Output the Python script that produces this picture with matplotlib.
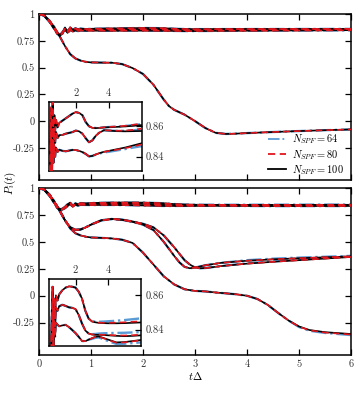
import matplotlib
matplotlib.use('Agg')
import matplotlib.pyplot as plt
from matplotlib.lines import Line2D

plt.rcParams['font.family'] = 'cmr10'
plt.rcParams['mathtext.fontset'] = 'cm'
plt.rcParams['axes.unicode_minus'] = False

BLUE = '#5b9bd5'
RED = '#e3161d'

# ---- shared time grids ----
t_head = [0, 0.1, 0.2, 0.3, 0.35, 0.4, 0.45, 0.5, 0.55, 0.6, 0.65, 0.7, 0.75, 0.8,
          0.9, 1.0, 1.2, 1.4, 1.6, 1.8, 2.0, 2.2, 2.4, 2.6, 2.8]
t_tail = [3.0, 3.2, 3.4, 3.7, 4.0, 4.5, 5.0, 5.5, 6.0]

# ---- top panel: three curves near 0.85 ----
topA_head = [1.0, 0.985, 0.93, 0.86, 0.825, 0.805, 0.815, 0.872, 0.838, 0.876, 0.852, 0.867, 0.857,
             0.864, 0.859, 0.862, 0.8635, 0.865, 0.8665, 0.868, 0.869, 0.8685, 0.867, 0.8625, 0.8598]
topA_100 = [0.8588, 0.8586, 0.8587, 0.859, 0.8592, 0.8594, 0.8597, 0.8601, 0.8606]
topA_80 = [0.8588, 0.8587, 0.8588, 0.8591, 0.8594, 0.8597, 0.8601, 0.8608, 0.8616]
topA_64 = [0.8588, 0.8587, 0.8588, 0.8591, 0.8593, 0.8596, 0.86, 0.8606, 0.8612]

topB_head = [1.0, 0.985, 0.93, 0.858, 0.82, 0.802, 0.83, 0.862, 0.828, 0.863, 0.844, 0.857, 0.849,
             0.856, 0.852, 0.854, 0.8542, 0.855, 0.8555, 0.856, 0.857, 0.8565, 0.855, 0.852, 0.8494]
topB_100 = [0.8506, 0.8535, 0.8555, 0.8572, 0.857, 0.8566, 0.8565, 0.8566, 0.8567]
topB_80 = [0.8506, 0.8535, 0.8555, 0.8572, 0.8571, 0.8569, 0.857, 0.8575, 0.8583]
topB_64 = [0.8506, 0.8535, 0.8555, 0.8572, 0.857, 0.8568, 0.8568, 0.8572, 0.8578]

topC_head = [1.0, 0.985, 0.93, 0.856, 0.815, 0.798, 0.822, 0.852, 0.824, 0.849, 0.836, 0.847, 0.84,
             0.846, 0.843, 0.8445, 0.8438, 0.8435, 0.844, 0.8444, 0.8443, 0.8438, 0.843, 0.8418, 0.8402]
topC_100 = [0.8405, 0.8414, 0.8422, 0.8432, 0.8438, 0.8449, 0.846, 0.8474, 0.8488]
topC_80 = [0.8405, 0.8414, 0.8422, 0.8431, 0.8437, 0.8446, 0.8456, 0.8467, 0.848]
topC_64 = [0.8405, 0.8413, 0.842, 0.8428, 0.8432, 0.8441, 0.845, 0.846, 0.8469]

# ---- top panel: decaying curve ----
t_tlow = [0, 0.1, 0.2, 0.3, 0.4, 0.5, 0.6, 0.7, 0.8, 0.9, 1.0, 1.2, 1.4, 1.6, 1.8, 2.0, 2.2, 2.4,
          2.5, 2.6, 2.8, 3.0, 3.2, 3.4, 3.6, 3.8, 4.0, 4.5, 5.0, 5.5, 6.0]
top_low = [1.0, 0.985, 0.94, 0.875, 0.79, 0.70, 0.625, 0.585, 0.565, 0.553, 0.548, 0.546, 0.545,
           0.532, 0.495, 0.44, 0.34, 0.20, 0.14, 0.105, 0.06, 0.0, -0.065, -0.11, -0.12, -0.117,
           -0.112, -0.102, -0.093, -0.085, -0.078]

# ---- bottom panel: three curves near 0.85 ----
botA_head = [1.0, 0.985, 0.93, 0.86, 0.822, 0.803, 0.808, 0.825, 0.85, 0.865, 0.835, 0.858, 0.848,
             0.86, 0.857, 0.8605, 0.863, 0.8645, 0.8652, 0.865, 0.8645, 0.862, 0.858, 0.851, 0.8465]
botA_100 = [0.8448, 0.8443, 0.844, 0.8438, 0.8437, 0.8437, 0.8438, 0.844, 0.8442]
botA_80 = [0.8448, 0.8444, 0.8441, 0.844, 0.844, 0.8441, 0.8443, 0.8446, 0.8449]
botA_64 = [0.845, 0.8447, 0.8446, 0.8447, 0.8449, 0.8452, 0.8456, 0.8461, 0.8466]

botB_head = [1.0, 0.985, 0.93, 0.858, 0.818, 0.8, 0.805, 0.818, 0.84, 0.858, 0.83, 0.852, 0.842,
             0.853, 0.851, 0.8536, 0.8545, 0.8538, 0.853, 0.8527, 0.852, 0.8485, 0.8435, 0.8395, 0.8378]
botB_100 = [0.8372, 0.837, 0.837, 0.8369, 0.8367, 0.8364, 0.8362, 0.8364, 0.8367]
botB_80 = [0.8372, 0.8371, 0.8371, 0.837, 0.8369, 0.8367, 0.8366, 0.8368, 0.8371]
botB_64 = [0.8374, 0.8375, 0.8377, 0.8379, 0.838, 0.8381, 0.8382, 0.8384, 0.8386]

botC_head = [1.0, 0.985, 0.93, 0.856, 0.815, 0.797, 0.8, 0.812, 0.832, 0.85, 0.826, 0.845, 0.836,
             0.844, 0.8429, 0.842, 0.8425, 0.8428, 0.8415, 0.8398, 0.838, 0.8358, 0.8334, 0.8333, 0.8342]
botC_100 = [0.835, 0.8358, 0.8361, 0.8352, 0.8342, 0.8326, 0.8328, 0.8334, 0.834]
botC_80 = [0.835, 0.8357, 0.836, 0.835, 0.834, 0.8324, 0.8326, 0.8332, 0.8338]
botC_64 = [0.8346, 0.8352, 0.8355, 0.8345, 0.8333, 0.8317, 0.8318, 0.8322, 0.8326]

# ---- bottom panel: two middle curves ----
t_mid = [0, 0.1, 0.2, 0.3, 0.4, 0.5, 0.6, 0.7, 0.8, 0.9, 1.0, 1.2, 1.4, 1.6, 1.8, 2.0, 2.2, 2.4,
         2.6, 2.7, 2.8, 2.9, 3.0, 3.1, 3.2, 3.5, 4.0, 4.5, 5.0, 5.5, 6.0]
mid1 = [1.0, 0.985, 0.94, 0.87, 0.79, 0.70, 0.635, 0.612, 0.615, 0.635, 0.66, 0.70, 0.712, 0.705,
        0.685, 0.66, 0.61, 0.50, 0.37, 0.31, 0.268, 0.255, 0.262, 0.272, 0.283, 0.305, 0.325,
        0.338, 0.348, 0.357, 0.365]
mid1_64_tail = [0.33, 0.344, 0.354, 0.362, 0.37]
mid2 = [1.0, 0.985, 0.94, 0.87, 0.79, 0.70, 0.635, 0.612, 0.615, 0.635, 0.66, 0.70, 0.712, 0.706,
        0.69, 0.668, 0.635, 0.56, 0.45, 0.39, 0.33, 0.29, 0.262, 0.255, 0.257, 0.275, 0.298,
        0.315, 0.33, 0.345, 0.36]
mid2_64_tail = [0.302, 0.32, 0.336, 0.35, 0.365]

# ---- bottom panel: lowest curve ----
t_blow = [0, 0.1, 0.2, 0.3, 0.4, 0.5, 0.6, 0.7, 0.8, 0.9, 1.0, 1.2, 1.4, 1.6, 1.8, 2.0, 2.2, 2.4,
          2.6, 2.8, 3.0, 3.2, 3.4, 3.6, 3.8, 4.0, 4.2, 4.4, 4.6, 4.8, 5.0, 5.2, 5.5, 6.0]
bot_low = [1.0, 0.985, 0.94, 0.87, 0.785, 0.70, 0.625, 0.58, 0.56, 0.548, 0.541, 0.537, 0.532,
           0.52, 0.49, 0.40, 0.29, 0.18, 0.105, 0.06, 0.045, 0.04, 0.03, 0.022, 0.013, 0.0,
           -0.03, -0.085, -0.16, -0.23, -0.285, -0.318, -0.338, -0.355]
bot_low_80_tail = [-0.287, -0.32, -0.342, -0.36]
bot_low_64_tail = [-0.29, -0.325, -0.345, -0.365]

labels = [r'$N_{SPF} = 64$', r'$N_{SPF} = 80$', r'$N_{SPF} = 100$']
ytick_vals = [-0.25, 0, 0.25, 0.5, 0.75, 1]
ytick_text = ['-0.25', '0', '0.25', '0.5', '0.75', '1']


def draw(ax, t, y64, y80, y100):
    ax.plot(t, y64, color=BLUE, ls='-.', lw=1.7, zorder=2)
    ax.plot(t, y100, color='k', lw=1.2, zorder=3)
    ax.plot(t, y80, color=RED, ls=(0, (4, 2.5)), lw=1.2, zorder=4)


def draw_top(ax):
    t = t_head + t_tail
    draw(ax, t, topA_head + topA_64, topA_head + topA_80, topA_head + topA_100)
    draw(ax, t, topB_head + topB_64, topB_head + topB_80, topB_head + topB_100)
    draw(ax, t, topC_head + topC_64, topC_head + topC_80, topC_head + topC_100)


def draw_bot(ax):
    t = t_head + t_tail
    draw(ax, t, botA_head + botA_64, botA_head + botA_80, botA_head + botA_100)
    draw(ax, t, botB_head + botB_64, botB_head + botB_80, botB_head + botB_100)
    draw(ax, t, botC_head + botC_64, botC_head + botC_80, botC_head + botC_100)


fig = plt.figure(figsize=(3.63, 3.93), dpi=100)
ax1 = fig.add_axes([0.1074, 0.542, 0.8595, 0.4224])
ax2 = fig.add_axes([0.1074, 0.0967, 0.8595, 0.4249])

draw_top(ax1)
draw(ax1, t_tlow, top_low, top_low, top_low)

draw_bot(ax2)
draw(ax2, t_mid, mid1[:26] + mid1_64_tail, mid1, mid1)
draw(ax2, t_mid, mid2[:26] + mid2_64_tail, mid2, mid2)
draw(ax2, t_blow, bot_low[:30] + bot_low_64_tail, bot_low[:30] + bot_low_80_tail, bot_low)

for ax in (ax1, ax2):
    ax.set_xlim(0, 6)
    ax.set_ylim(-0.55, 1.0)
    ax.set_xticks(range(7))
    ax.set_yticks(ytick_vals)
    ax.set_yticklabels(ytick_text)
    ax.tick_params(direction='in', top=True, right=True, length=4, width=0.9,
                   labelsize=7.5, labelcolor='#333333', pad=3)
    for s in ax.spines.values():
        s.set_linewidth(1.1)
ax1.set_xticklabels([])
ax2.set_xlabel(r'$t\Delta$', fontsize=8, labelpad=1)

handles = [Line2D([], [], color=BLUE, ls='-.', lw=1.3),
           Line2D([], [], color=RED, ls=(0, (4, 2.5)), lw=1.3),
           Line2D([], [], color='k', lw=1.3)]
ax1.legend(handles, labels, loc='lower right', bbox_to_anchor=(1.0, -0.025), frameon=False,
           fontsize=7.5, handlelength=1.7, handletextpad=0.6, labelspacing=0.15,
           borderaxespad=0.3)

fig.text(0.028, 0.534, r'$P_i(t)$', rotation=90, ha='center', va='center', fontsize=8)

# insets
ins1 = fig.add_axes([0.135, 0.5649, 0.256, 0.1756])
draw_top(ins1)
ins1.set_xlim(0.38, 6.0)
ins1.set_ylim(0.8307, 0.8756)

ins2 = fig.add_axes([0.135, 0.1196, 0.2534, 0.1705])
draw_bot(ins2)
ins2.set_xlim(0.38, 6.0)
ins2.set_ylim(0.8305, 0.8695)

for ins in (ins1, ins2):
    ins.xaxis.tick_top()
    ins.yaxis.tick_right()
    ins.set_xticks([2, 4])
    ins.set_yticks([0.84, 0.86])
    ins.set_xticklabels(['2', '4'])
    ins.set_yticklabels(['0.84', '0.86'])
    ins.tick_params(direction='in', length=4, width=0.9, labelsize=7.5,
                    labelcolor='#333333', pad=3)
    for s in ins.spines.values():
        s.set_linewidth(1.1)

fig.savefig('out.png', dpi=100)
